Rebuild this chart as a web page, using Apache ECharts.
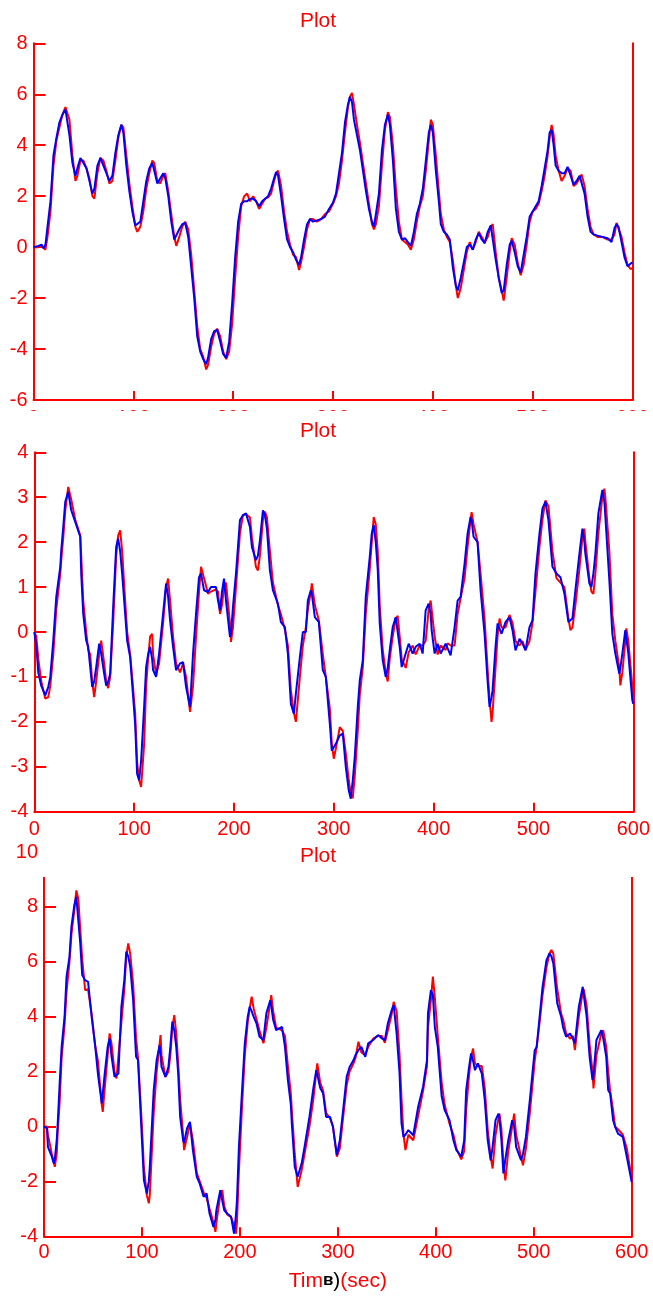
<!DOCTYPE html>
<html><head><meta charset="utf-8">
<script src="https://cdn.jsdelivr.net/npm/echarts@6/dist/echarts.min.js"></script>
<style>html,body{margin:0;padding:0;background:#fff}#c{width:653px;height:1296px}</style>
</head><body><div id="c"></div>
<script>
// ---------- data ----------
const titles = ['Plot', 'Plot', 'Plot'];
const xTickValues = [0, 100, 200, 300, 400, 500, 600];
const yRanges = [[-6, 8, 2], [-4, 4, 1], [-4, 10, 2]];
const xAxisName = 'Time (sec)';

const t1 = [0,5,8,10,12,14,17,20,23,26,29,32,34,36,39,42,44,47,50,53,56,59,61,64,67,70,73,76,79,82,85,88,90,93,96,99,102,104,107,110,113,116,119,121,124,127,130,132,135,138,141,143,146,149,152,155,158,161,164,167,170,173,175,178,181,184,187,190,193,196,199,202,205,208,211,214,217,220,223,226,229,232,235,238,241,243,245,248,251,254,257,260,263,266,268,271,274,277,280,284,288,292,296,300,303,306,309,312,315,317,319,321,324,327,330,333,336,339,341,343,346,349,352,355,357,360,363,366,369,372,375,378,381,384,387,390,393,396,398,400,403,406,408,411,414,417,420,423,425,428,431,434,437,440,443,446,449,452,455,458,460,463,466,469,471,474,477,479,482,485,488,491,494,497,500,503,506,509,512,515,517,519,521,523,526,529,532,535,538,541,544,547,549,552,555,558,561,565,570,575,579,582,584,586,589,592,595,598,600];
const blue1 = [0,0.05,0.1,-0.05,0.1,0.8,1.8,3.6,4.3,4.9,5.2,5.4,5.4,4.4,3.3,2.8,3.1,3.5,3.3,3.1,2.6,2.1,2.3,3.2,3.5,3.2,2.9,2.6,2.8,3.7,4.4,4.8,4.5,3.2,2.2,1.4,0.85,0.8,1.0,1.8,2.6,3.1,3.3,3.0,2.5,2.7,2.9,2.7,2.0,1.0,0.3,0.3,0.7,0.9,0.95,0.4,-0.8,-2.0,-3.5,-4.1,-4.4,-4.6,-4.3,-3.6,-3.3,-3.25,-3.7,-4.2,-4.35,-3.7,-2.2,-0.4,1.0,1.7,1.8,1.8,1.9,1.9,1.8,1.6,1.8,1.9,2.0,2.3,2.7,2.95,2.8,2.0,1.1,0.3,0.0,-0.2,-0.5,-0.7,-0.4,0.3,0.9,1.1,1.0,1.05,1.1,1.2,1.5,1.75,2.1,2.9,3.7,4.9,5.6,5.9,5.7,5.0,4.4,3.8,3.0,2.2,1.5,1.0,0.8,1.3,2.1,3.8,4.8,5.2,4.8,3.4,1.5,0.6,0.3,0.35,0.2,0.05,0.6,1.3,1.7,2.3,3.4,4.5,4.8,4.5,3.0,1.8,0.9,0.6,0.5,0.3,-0.8,-1.5,-1.7,-1.2,-0.6,0.0,0.1,-0.1,0.3,0.55,0.3,0.15,0.6,0.85,0.8,-0.5,-1.2,-1.8,-1.7,-0.7,0.1,0.25,-0.2,-0.75,-1.0,-0.3,0.4,1.2,1.4,1.6,1.8,2.4,3.1,3.8,4.5,4.6,4.0,3.2,3.0,2.9,2.9,3.15,2.8,2.45,2.6,2.8,2.8,2.1,1.2,0.6,0.5,0.45,0.4,0.35,0.2,0.75,0.9,0.8,0.2,-0.4,-0.75,-0.65,-0.6];
const red1 = [0,0,0.05,0,-0.1,0.4,1.4,3.2,4.2,4.7,5.2,5.5,5.5,5.0,3.6,2.6,2.8,3.4,3.4,3.1,2.7,2.0,1.9,2.9,3.5,3.4,3.0,2.5,2.6,3.4,4.3,4.8,4.7,3.6,2.5,1.6,0.8,0.6,0.8,1.4,2.3,2.9,3.4,3.3,2.6,2.5,2.8,2.9,2.2,1.3,0.4,0.05,0.4,0.8,1.0,0.7,-0.3,-1.7,-3.1,-4.0,-4.3,-4.8,-4.6,-3.9,-3.4,-3.2,-3.5,-4.1,-4.4,-4.1,-3.0,-1.2,0.4,1.6,2.0,2.1,1.8,2.0,1.8,1.5,1.7,1.9,1.95,2.1,2.6,2.9,3.0,2.4,1.4,0.6,0.1,-0.3,-0.4,-0.9,-0.6,0.0,0.7,1.1,1.1,1.0,1.1,1.3,1.4,1.7,2.0,2.5,3.4,4.5,5.5,5.9,6.05,5.6,4.8,4.1,3.3,2.5,1.7,0.9,0.7,0.9,1.6,3.2,4.6,5.3,5.1,4.0,2.3,1.0,0.3,0.2,0.1,-0.1,0.3,1.0,1.6,2.0,3.0,4.2,5.0,4.8,3.6,2.2,1.3,0.7,0.4,0.2,-0.5,-1.5,-2.0,-1.6,-0.9,-0.2,0.2,-0.1,0.2,0.6,0.4,0.2,0.4,0.8,0.9,-0.2,-1.2,-1.7,-2.1,-1.2,-0.2,0.35,0.1,-0.6,-1.1,-0.7,0.1,1.0,1.4,1.5,1.7,2.2,2.8,3.6,4.3,4.8,4.4,3.6,3.0,2.6,2.8,3.1,3.0,2.4,2.5,2.7,2.85,2.4,1.5,0.8,0.5,0.4,0.4,0.3,0.3,0.5,0.95,0.9,0.4,-0.2,-0.7,-0.85,-0.85];

const t2 = [0,2,4,7,11,14,16,19,22,26,27,29,31,34,37,41,46,47,49,52,54,56,58,60,62,65,67,70,72,74,76,79,82,84,86,88,91,93,96,98,101,103,105,107,110,112,114,116,118,119,122,125,129,132,134,136,139,142,146,149,152,156,159,162,165,167,170,174,177,182,184,186,188,190,192,196,197,199,202,206,209,212,216,218,222,224,226,229,231,233,236,239,244,247,251,254,257,260,262,266,269,272,274,277,278,281,285,289,292,296,298,300,302,306,309,312,315,317,319,321,324,326,329,332,336,338,340,342,344,346,349,352,354,356,359,362,364,366,368,372,375,379,382,386,389,392,395,397,398,401,404,407,412,414,417,421,424,427,431,434,437,438,440,444,447,451,454,456,458,459,462,464,466,468,472,476,479,482,486,489,492,496,499,502,506,509,512,515,519,523,527,531,535,537,539,542,546,549,551,552,556,558,560,562,565,569,571,572,576,579,582,586,587,589,592,593,595,599,600];
const blue2 = [0,-0.3,-0.9,-1.2,-1.41,-1.22,-1.0,-0.19,0.78,1.45,1.82,2.34,2.9,3.12,2.71,2.45,2.12,1.3,0.41,-0.19,-0.33,-0.78,-1.22,-1.1,-0.78,-0.26,-0.48,-0.93,-1.19,-1.1,-0.93,0.56,1.89,2.08,1.8,1.3,0.41,-0.19,-0.56,-1.15,-2.04,-3.16,-3.3,-2.86,-1.67,-0.78,-0.5,-0.33,-0.6,-0.85,-1.0,-0.48,0.41,1.08,0.8,0.26,-0.33,-0.85,-0.7,-0.67,-1.22,-1.67,-0.48,0.41,1.22,1.3,0.93,0.89,1.0,1.0,0.7,0.48,0.9,1.19,0.7,-0.11,-0.05,0.56,1.3,2.49,2.6,2.64,2.34,1.89,1.6,1.7,2.04,2.71,2.6,2.3,1.37,0.93,0.63,0.22,0.11,-0.48,-1.6,-1.82,-1.37,-0.56,0,0,0.7,0.93,0.85,0.33,0.22,-0.85,-1.0,-2.04,-2.64,-2.6,-2.49,-2.3,-2.26,-3.0,-3.53,-3.71,-3.3,-2.78,-1.67,-1.08,-0.63,0.78,1.67,2.19,2.38,2.0,1.4,0.19,-0.63,-1.0,-0.8,-0.41,0.11,0.33,0,-0.33,-0.78,-0.48,-0.26,-0.48,-0.33,-0.26,-0.48,0.48,0.63,0.4,0.04,-0.48,-0.26,-0.48,-0.26,-0.22,-0.52,0.11,0.7,0.78,1.52,2.19,2.56,2.5,2.12,2.0,0.93,-0.04,-1.08,-1.67,-1.45,-1.3,-0.33,0.19,0.22,-0.04,0.22,0.33,0.04,-0.41,-0.15,-0.26,-0.41,0.11,0.26,1.3,2.19,2.75,2.9,2.49,1.45,1.3,1.22,0.85,0.22,0.22,0.3,0.93,1.74,2.3,2.0,1.74,1.08,1.0,1.3,1.74,2.64,3.16,2.9,2.56,1.15,-0.04,-0.48,-0.93,-0.8,-0.48,0.04,0,-0.48,-1.52,-1.6];
const red2 = [0,-0.1,-0.6,-1.1,-1.48,-1.45,-1.2,-0.5,0.5,1.3,1.6,2.1,2.7,3.23,2.95,2.5,2.15,1.7,0.7,0,-0.4,-0.5,-1.1,-1.45,-1.1,-0.5,-0.19,-0.7,-1.1,-1.25,-1.0,0.2,1.7,2.15,2.26,1.8,0.7,0,-0.5,-1.0,-1.8,-2.9,-3.3,-3.45,-2.5,-1.2,-0.6,-0.1,-0.04,-0.5,-0.95,-0.7,0.2,1.0,1.19,0.7,-0.1,-0.7,-0.9,-0.7,-1.0,-1.78,-1.2,-0.1,0.9,1.45,1.2,0.85,0.9,0.95,0.9,0.4,0.6,1.0,1.1,0.2,-0.22,0.1,1.0,2.2,2.6,2.62,2.55,2.1,1.45,1.37,1.7,2.5,2.68,2.55,1.8,1.1,0.6,0.4,0.05,-0.3,-1.3,-1.8,-2.0,-1.0,-0.3,0.1,0.5,0.9,1.08,0.6,0.26,-0.5,-1.0,-1.7,-2.5,-2.82,-2.6,-2.12,-2.2,-2.7,-3.3,-3.6,-3.7,-3.2,-2.2,-1.4,-0.8,0.4,1.4,2.0,2.56,2.4,1.8,0.6,-0.4,-0.9,-1.1,-0.6,-0.1,0.3,0.36,-0.1,-0.6,-0.8,-0.45,-0.3,-0.5,-0.3,-0.3,-0.2,0.5,0.7,0.5,-0.1,-0.5,-0.3,-0.4,-0.25,-0.3,-0.3,0.4,0.75,1.2,1.9,2.5,2.67,2.4,2.0,1.3,0.3,-0.8,-1.5,-2.0,-1.8,-0.8,-0.1,0.3,0.1,0.1,0.38,0.2,-0.2,-0.3,-0.2,-0.4,-0.2,0.2,0.9,1.9,2.5,2.93,2.8,1.8,1.2,1.1,1.0,0.3,0.04,0.1,0.6,1.4,2.1,2.3,2.0,1.2,0.9,0.85,1.3,2.2,3.0,3.19,3.0,1.8,0.4,-0.2,-0.8,-1.19,-0.9,-0.2,0.08,-0.2,-1.2,-1.5];

const t3 = [0,3,4,8,10,11,13,14,16,18,21,23,26,28,31,33,35,37,39,42,45,49,52,55,59,60,62,65,67,69,72,74,76,79,82,84,86,88,91,94,96,100,102,105,107,108,112,115,118,119,120,124,127,129,131,133,135,137,139,142,143,146,149,152,156,159,163,166,169,173,175,176,180,182,184,187,191,194,196,197,199,202,205,208,210,212,214,217,220,224,227,231,232,234,237,243,246,249,252,253,256,259,263,266,271,275,278,279,282,285,288,292,295,299,302,305,309,312,316,318,321,324,328,331,336,341,345,348,351,355,357,360,363,365,367,369,372,377,382,387,391,392,395,397,399,402,406,409,414,418,421,426,429,431,434,436,438,440,443,447,450,453,456,458,461,464,465,467,469,471,474,478,480,482,487,489,492,496,501,503,506,509,513,516,518,520,524,528,530,533,537,540,542,546,550,551,554,557,560,561,564,569,571,574,576,578,581,583,586,591,595,600];
const blue3 = [0,-0.07,-0.74,-1.1,-1.35,-1.2,-0.5,0.11,1.57,2.9,4.0,5.46,6.18,7.28,8.07,8.37,7.52,6.67,5.52,5.33,5.27,3.88,3.03,1.93,0.84,0.8,1.93,2.9,3.21,2.54,1.81,1.8,1.93,4.36,5.33,6.37,6.2,5.82,4.6,2.54,2.42,-0.5,-1.96,-2.44,-2.0,-1.47,1.32,2.42,2.96,2.6,2.17,1.81,2.17,2.9,3.82,3.5,2.9,1.93,0.35,-0.5,-0.6,-0.07,0.17,-0.86,-1.83,-2.08,-2.56,-2.44,-3.17,-3.66,-3.4,-3.05,-2.32,-2.7,-3.05,-3.17,-3.29,-3.9,-3.2,-2.69,-0.74,1.2,3.03,4.0,4.36,4.2,4.0,3.75,3.27,3.15,4.12,4.6,4.4,3.88,3.51,3.63,2.9,1.69,0.8,0.11,-1.47,-1.83,-1.35,-0.74,0.35,1.4,2.05,1.9,1.4,1.2,0.35,0.35,-0.01,-1.04,-0.5,0.47,1.81,2.17,2.42,2.6,2.78,2.9,2.54,3.03,3.15,3.33,3.21,3.15,3.75,4.24,4.42,3.39,1.93,0.11,-0.38,-0.3,-0.13,-0.32,0.72,1.45,2.42,4.12,4.97,4.8,3.63,2.9,1.1,0.6,0.23,-0.5,-0.86,-1.1,-0.5,1.32,2.17,2.66,2.4,2.05,2.3,1.93,0.96,-0.5,-1.23,-0.74,0.23,0.47,0.3,-0.5,-1.71,-1.2,-0.5,0.23,0,-0.74,-1.23,-1.0,-0.38,0.96,2.78,2.9,4.0,5.09,6.06,6.31,6.2,5.94,4.48,4.0,3.6,3.27,3.39,3.2,3.03,4.36,5.09,4.8,4.0,2.54,1.69,1.9,3.15,3.51,3.2,2.54,1.32,1.2,0.23,0,-0.26,-0.38,-1.1,-2.02];
const red3 = [0,0,-0.3,-1.0,-1.3,-1.47,-1.0,-0.2,0.9,2.5,3.7,4.9,6.0,7.0,7.9,8.6,8.3,7.2,6.1,4.97,5.0,4.0,3.0,2.4,0.8,0.53,1.4,2.6,3.39,3.0,2.0,1.75,1.8,3.8,5.0,6.2,6.67,6.3,5.2,3.2,2.5,0,-1.5,-2.5,-2.8,-2.5,0.5,2.0,3.0,3.33,2.6,1.8,2.0,2.6,3.6,4.06,3.4,2.3,1.0,-0.3,-0.86,-0.4,0.1,-0.5,-1.7,-2.0,-2.4,-2.6,-3.0,-3.5,-3.84,-3.5,-2.5,-2.32,-2.9,-3.2,-3.3,-3.6,-3.9,-3.5,-1.6,0.6,2.6,3.8,4.3,4.73,4.3,3.9,3.5,3.03,3.6,4.5,4.79,4.2,3.6,3.5,3.3,2.2,1.2,0.6,-1.0,-2.2,-1.6,-1.0,0,1.0,2.0,2.3,1.6,1.3,0.5,0.3,0,-1.1,-0.8,0.2,1.5,2.0,2.3,2.5,3.09,2.7,2.6,2.9,3.2,3.3,3.3,3.05,3.5,4.1,4.54,4.2,2.6,1.0,-0.3,-0.86,-0.3,-0.5,0.4,1.3,2.2,3.6,4.6,5.46,4.7,3.3,1.6,0.8,0.1,-0.3,-0.8,-1.2,-0.9,0.6,1.9,2.5,2.84,2.3,2.2,2.2,1.4,-0.1,-1.1,-1.53,-0.3,0.3,0.47,-0.1,-1.3,-1.96,-0.9,0,0.47,-0.3,-1.1,-1.41,-0.8,0.5,2.4,2.9,3.8,4.8,5.8,6.3,6.43,6.3,5.0,4.1,3.9,3.4,3.2,3.3,2.78,4.0,4.9,5.0,4.4,3.0,2.0,1.39,2.6,3.4,3.5,2.9,2.0,1.3,0.6,0,-0.1,-0.3,-0.8,-1.9];

// ---------- chart ----------
const RED = '#ff0000', BLUE = '#0000ff', BLACK = '#000000';
const FONT = "'Liberation Sans', Arial, Helvetica, sans-serif";
const pairs = (t, v) => t.map((x, i) => [x, v[i]]);
const panels = [[t1, red1, blue1], [t2, red2, blue2], [t3, red3, blue3]];

const grids = [
  { left: 33.5, right: 20.5, top: 43.3, height: 356.7 },
  { left: 34.3, right: 18.7, top: 452.3, height: 359.4 },
  { left: 44, right: 21.3, top: 852, height: 384.3 }
];
const titleTops = [11, 421, 846];
const titleLefts = [318, 318, 318];

const xAxes = [], yAxes = [], series = [], titleArr = [];
panels.forEach((p, k) => {
  titleArr.push({
    text: titles[k], left: titleLefts[k], top: titleTops[k], textAlign: 'center', padding: 0, z: 100,
    textStyle: { color: RED, fontSize: 21, fontWeight: 'normal', fontFamily: FONT }
  });
  const xa = {
    type: 'value', gridIndex: k, min: xTickValues[0], max: xTickValues[xTickValues.length - 1], interval: 100,
    axisLine: { show: true, onZero: false, lineStyle: { color: RED, width: 2 } },
    axisTick: { show: true, inside: true, length: 9, lineStyle: { color: RED, width: 2 } },
    axisLabel: { color: RED, fontSize: 20, fontFamily: FONT, margin: 8, showMinLabel: true, showMaxLabel: true },
    splitLine: { show: false }
  };
  if (k === 2) {
    xa.name = 'Tim{b|в}{p|)}(sec)';
    xa.nameLocation = 'middle';
    xa.nameGap = 34;
    xa.nameTextStyle = {
      color: RED, fontSize: 21, fontFamily: FONT,
      rich: {
        b: { color: BLACK, fontSize: 17, fontWeight: 'bold', fontFamily: FONT },
        p: { color: BLACK, fontSize: 21, fontFamily: FONT }
      }
    };
    xa.axisLabel.margin = 6;
  }
  xAxes.push(xa);
  const [mn, mx, iv] = yRanges[k];
  yAxes.push({
    type: 'value', gridIndex: k, min: mn, max: mx, interval: iv, position: 'left',
    axisLine: { show: true, onZero: false, lineStyle: { color: RED, width: 2 } },
    axisTick: { show: true, inside: true, length: 12, lineStyle: { color: RED, width: 2 } },
    axisLabel: { color: RED, fontSize: 20, fontFamily: FONT, margin: 6 },
    splitLine: { show: false }
  });
  yAxes.push({
    type: 'value', gridIndex: k, min: mn, max: mx, interval: iv, position: 'right',
    axisLine: { show: true, onZero: false, lineStyle: { color: RED, width: 2 } },
    axisTick: { show: false }, axisLabel: { show: false }, splitLine: { show: false }
  });
  series.push({
    type: 'line', xAxisIndex: k, yAxisIndex: 2 * k, data: pairs(p[0], p[1]),
    showSymbol: false, lineStyle: { color: RED, width: 2 }, z: 2, silent: true
  });
  series.push({
    type: 'line', xAxisIndex: k, yAxisIndex: 2 * k, data: pairs(p[0], p[2]),
    showSymbol: false, lineStyle: { color: BLUE, width: 2 }, z: 3, silent: true
  });
});

const chart = echarts.init(document.getElementById('c'), null, { renderer: 'canvas' });
chart.setOption({
  animation: false,
  backgroundColor: '#ffffff',
  textStyle: { fontFamily: FONT },
  title: titleArr,
  grid: grids,
  xAxis: xAxes,
  yAxis: yAxes,
  series: series,
  graphic: [
    { type: 'rect', left: 0, top: 411, shape: { width: 653, height: 32 }, style: { fill: '#ffffff' }, z: 50, silent: true },
    { type: 'rect', left: 41, top: 841, shape: { width: 612, height: 36 }, style: { fill: '#ffffff' }, z: 50, silent: true }
  ]
});
</script>
</body></html>
